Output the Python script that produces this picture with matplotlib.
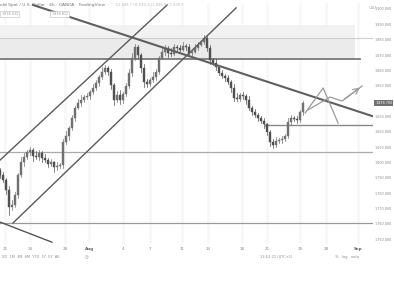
import matplotlib
matplotlib.use("Agg")
import matplotlib.pyplot as plt
import matplotlib.transforms as mtransforms
from matplotlib.patches import Rectangle

# ---------------- data ----------------
closes = [1791.8, 1788.5, 1782.0, 1770.9, 1772.2, 1778.7, 1791.8, 1800.2, 1803.5, 1806.8,
          1808.1, 1804.2, 1803.5, 1806.1, 1802.9, 1801.5, 1798.9, 1800.2, 1797.0, 1797.6,
          1798.3, 1813.3, 1817.2, 1822.4, 1828.9, 1835.5, 1838.7, 1840.7, 1842.6, 1843.3,
          1845.9, 1848.5, 1851.8, 1855.7, 1858.9, 1861.6, 1858.9, 1850.5, 1840.7, 1843.9,
          1840.7, 1844.6, 1849.8, 1858.3, 1868.1, 1875.2, 1870.0, 1861.6, 1852.4, 1851.1,
          1853.7, 1855.7, 1858.9, 1868.1, 1872.0, 1874.6, 1871.3, 1870.7, 1875.2, 1874.6,
          1873.3, 1875.9, 1875.2, 1871.3, 1872.0, 1874.6, 1876.6, 1878.5, 1881.1, 1874.6,
          1866.8, 1864.8, 1862.2, 1858.3, 1856.3, 1855.0, 1852.4, 1848.5, 1842.0, 1841.3,
          1843.9, 1843.3, 1840.7, 1835.5, 1832.9, 1830.9, 1828.9, 1827.0, 1825.0, 1819.8,
          1813.3, 1811.3, 1813.9, 1814.6, 1815.2, 1817.2, 1826.3, 1828.9, 1828.3, 1827.6,
          1832.9, 1838.7]
first_open = 1795.0
up_wick = [1.5, 2.0, 1.0, 2.5, 3.0, 2.0, 1.5, 3.0, 2.5, 1.0,
           2.0, 1.5, 3.0, 2.0, 1.0, 2.5, 1.5, 2.0, 1.0, 2.5,
           1.5, 2.0, 3.0, 1.5, 2.0, 1.0, 2.5, 3.0, 1.5, 2.0,
           1.0, 2.5, 2.0, 1.5, 3.0, 2.0, 1.0, 2.0, 1.5, 2.5,
           3.0, 1.5, 2.0, 2.5, 3.0, 2.0, 1.5, 1.0, 2.5, 2.0,
           1.5, 3.0, 2.0, 1.5, 2.5, 2.0, 1.0, 3.0, 2.0, 1.5,
           2.0, 2.5, 1.5, 2.0, 1.0, 2.5, 2.0, 1.5, 2.0, 1.0,
           2.0, 1.5, 2.5, 1.0, 2.0, 1.5, 2.0, 1.0, 2.5, 3.0,
           1.5, 2.0, 1.0, 2.5, 1.5, 2.0, 1.0, 1.5, 2.0, 1.0,
           1.5, 2.0, 2.5, 1.0, 2.0, 1.5, 2.5, 2.0, 1.5, 2.0,
           1.5, 1.0]
down_wick = [2.0, 1.5, 2.5, 5.0, 2.0, 1.5, 2.0, 1.0, 2.5, 1.5,
             2.0, 3.0, 1.5, 2.0, 2.5, 1.0, 2.0, 1.5, 3.0, 2.0,
             1.5, 2.0, 1.0, 2.5, 1.5, 2.0, 1.0, 2.0, 1.5, 1.0,
             2.0, 1.5, 1.0, 2.0, 1.5, 1.0, 2.0, 2.5, 3.0, 1.5,
             2.5, 2.0, 1.5, 1.0, 2.0, 1.5, 2.0, 2.5, 3.0, 2.0,
             1.5, 1.0, 2.0, 1.5, 1.0, 2.0, 2.5, 1.5, 1.0, 2.0,
             1.5, 1.0, 2.0, 1.5, 2.0, 1.0, 1.5, 1.0, 1.5, 2.0,
             2.5, 1.5, 2.0, 1.5, 1.0, 2.0, 1.5, 2.5, 2.0, 1.5,
             1.0, 2.0, 2.5, 1.5, 2.0, 1.0, 2.0, 1.5, 2.5, 2.0,
             2.5, 2.0, 1.5, 1.0, 2.0, 1.5, 1.0, 2.0, 1.5, 2.0,
             1.5, 2.0]

price_ticks = [1750, 1760, 1770, 1780, 1790, 1800, 1810, 1820, 1830, 1840,
               1850, 1860, 1870, 1880, 1890, 1900]
date_pos = [1.7, 10, 21.7, 29.7, 41, 50, 60.7, 69.3, 80.7, 89, 100, 108.7, 119.3]
date_labels = ["21", "24", "28", "Aug", "4", "7", "11", "14", "18", "21", "25", "28", "Sep"]
bold_labels = {"Aug", "Sep"}

# drawings (index, price)
upper_channel = ([0, 55.7], [1801.5, 1902.6])
lower_channel = ([4.33, 78.7], [1760.5, 1900.7])
down_trend = ([11, 125], [1902.6, 1829.6])
small_line = ([0, 17.3], [1761.1, 1748.0])
zigzag = ([101.7, 107.7, 112.7], [1832.2, 1848.5, 1825.6])
proj_path = ([102.7, 110.0, 114.0, 120.7], [1834.2, 1842.6, 1840.0, 1849.8])
band_outer = (1866.8, 1889.6)
band_inner = (1867.4, 1881.1)
h_dark = 1867.4
h_light_top = 1881.1
h_support = (88.3, 125, 1824.4)
h_mid = 1806.8
h_low = 1760.5
last_price = 1838.7

# ---------------- figure ----------------
fig = plt.figure(figsize=(3.94, 2.81), dpi=100)
fig.patch.set_facecolor("white")
ax = fig.add_axes([0, 1 - 244 / 281, 373 / 394, 241 / 281])
ax.set_xlim(0, 124.33)
ax.set_ylim(1746.8, 1903.9)
for s in ax.spines.values():
    s.set_visible(False)

# faint grid
for p in date_pos:
    ax.axvline(p, color="#f8f8f8", lw=2.0, zorder=0)

# band
ax.add_patch(Rectangle((0, band_outer[0]), 118.3, band_outer[1] - band_outer[0],
                       facecolor="#f2f2f2", edgecolor="none", zorder=0.5))
ax.add_patch(Rectangle((0, band_inner[0]), 118.3, band_inner[1] - band_inner[0],
                       facecolor="#ebebeb", edgecolor="none", zorder=0.6))

# horizontal lines
ax.axhline(h_light_top, color="#cfcfcf", lw=0.8, zorder=1)
ax.plot([0, 120], [h_dark, h_dark], color="#7a7a7a", lw=1.3, zorder=1)
ax.plot([h_support[0], h_support[1]], [h_support[2], h_support[2]], color="#888888", lw=1.0, zorder=1)
ax.axhline(h_mid, color="#aaaaaa", lw=0.9, zorder=1)
ax.axhline(h_low, color="#999999", lw=0.9, zorder=1)

# candles
opens = [first_open] + closes[:-1]
for i, (o, c) in enumerate(zip(opens, closes)):
    hi = max(o, c) + up_wick[i]
    lo = min(o, c) - down_wick[i]
    col = "#707070" if c >= o else "#505050"
    ax.plot([i, i], [lo, hi], color=col, lw=0.5, zorder=3)
    ax.add_patch(Rectangle((i - 0.28, min(o, c)), 0.56, max(abs(c - o), 0.3),
                           facecolor=col, edgecolor=col, lw=0.3, zorder=3))

# trend lines
for (xs, ys) in (upper_channel, lower_channel):
    ax.plot(xs, ys, color="#5a5a5a", lw=1.0, zorder=4)
ax.plot(*down_trend, color="#5f5f5f", lw=1.5, zorder=4)
ax.plot(*small_line, color="#555555", lw=1.0, zorder=4, clip_on=False)

# projections
ax.plot(*zigzag, color="#9a9a9a", lw=0.9, zorder=4)
ax.plot(*proj_path, color="#9a9a9a", lw=0.9, zorder=4)
ax.annotate("", xy=(proj_path[0][-1], proj_path[1][-1]),
            xytext=(proj_path[0][-2], proj_path[1][-2]),
            arrowprops=dict(arrowstyle="->", color="#9a9a9a", lw=0.9), zorder=4)

# axes ticks
ax.yaxis.tick_right()
ax.set_yticks(price_ticks)
ax.set_yticklabels([f"{v:,.3f}" for v in price_ticks], fontsize=2.4, color="#8a8a8a")
ax.tick_params(axis="y", length=0, pad=1.5)
ax.set_xticks(date_pos)
ax.set_xticklabels(date_labels, fontsize=3, color="#8a8a8a")
for lab in ax.get_xticklabels():
    if lab.get_text() in bold_labels:
        lab.set_fontweight("bold")
        lab.set_color("#666666")
ax.tick_params(axis="x", length=0, pad=2)

# last price label
trans = mtransforms.blended_transform_factory(ax.transAxes, ax.transData)
ax.text(1.006, last_price, f"{last_price:,.3f}", transform=trans, fontsize=2.4,
        color="white", va="center", ha="left", clip_on=False,
        bbox=dict(boxstyle="square,pad=0.3", facecolor="#707070", edgecolor="none"), zorder=6)

# header texts
fig.text(0.0, 1 - 5 / 281, "old Spot / U.S. Dollar · 4h · OANDA   TradingView",
         fontsize=3.2, color="#777777", va="center", ha="left")
fig.text(0.72 * 0.38, 1 - 5 / 281, "· ^  O1,838.7 H1,840.2 L1,836.9 C1,838.7",
         fontsize=2.6, color="#bbbbbb", va="center", ha="left")
fig.text(0.003, 1 - 14 / 281, "1,838.532", fontsize=2.4, color="#999999", va="center",
         bbox=dict(boxstyle="square,pad=0.3", facecolor="white", edgecolor="#bbbbbb", lw=0.4))
fig.text(0.13, 1 - 14 / 281, "1,838.812", fontsize=2.4, color="#999999", va="center",
         bbox=dict(boxstyle="square,pad=0.3", facecolor="white", edgecolor="#bbbbbb", lw=0.4))
fig.text(0.935, 1 - 8 / 281, "USD", fontsize=2.6, color="#999999", va="center")

# bottom bar
fig.text(0.005, 1 - 257 / 281, "5D  1M  3M  6M  YTD  1Y  5Y  All", fontsize=2.6,
         color="#8a8a8a", va="center")
fig.text(0.215, 1 - 257 / 281, "◷", fontsize=3, color="#8a8a8a", va="center",
         family=["DejaVu Sans", "Noto Sans CJK SC"])
fig.text(0.66, 1 - 257 / 281, "13:52:21 (UTC+1)", fontsize=2.6, color="#8a8a8a", va="center")
fig.text(0.85, 1 - 257 / 281, "%   log   auto", fontsize=2.6, color="#8a8a8a", va="center")

fig.savefig("out.png", dpi=100, facecolor="white")
